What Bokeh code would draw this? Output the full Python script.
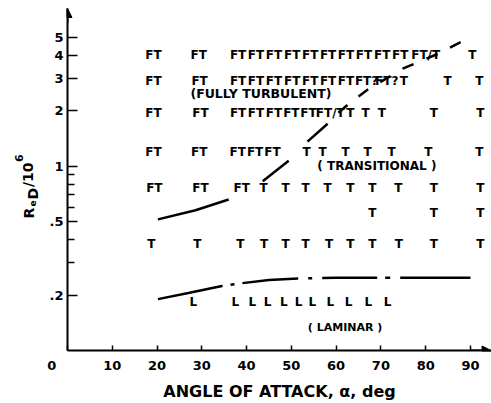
from bokeh.plotting import figure
from bokeh.layouts import row
from bokeh.models import Range1d, FixedTicker, Label, Arrow, NormalHead, ColumnDataSource
from bokeh.core.properties import value
from bokeh.embed import file_html
from bokeh.resources import INLINE

FONT = "DejaVu Sans"

# ---------------- data ----------------
x_ticks = [0, 10, 20, 30, 40, 50, 60, 70, 80, 90]
x_tick_labels = ["0\u00a0\u00a0\u00a0\u00a0\u00a0\u00a0\u00a0", "10", "20", "30", "40", "50", "60", "70", "80", "90"]
y_major = [0.2, 0.5, 1, 2, 3, 4, 5]
y_major_labels = [".2", ".5", "1", "2", "3", "4", "5"]
y_minor = [0.3, 0.4, 0.6, 0.7, 0.8, 0.9]

# rows of typed flow-regime markers (angle of attack, deg)
row1_re = 4.0
row1_x = [19.2, 29.3, 38.1, 42.1, 46.1, 50.2, 54.2, 58.2, 62.2, 66.2, 70.3, 74.3, 80.0, 90.4]
row1_t = ["FT"] * 12 + ["FT/T", "T"]

row2_re = 2.9
row2_x = [19.2, 29.5, 38.1, 42.1, 46.1, 50.2, 54.2, 58.2, 62.2, 66.8, 71.3, 75.1, 84.9, 92.0]
row2_t = ["FT"] * 9 + ["FT?", "FT?", "T", "T", "T"]

row3_re = 1.95
row3_x = [19.2, 29.7, 38.1, 42.1, 46.1, 50.0, 53.8, 58.7, 63.2, 66.6, 70.2, 81.8, 92.2]
row3_t = ["FT"] * 7 + ["FT/T"] + ["T"] * 5

row4_re = 1.2
row4_x = [19.2, 29.4, 38.0, 41.9, 45.8, 53.4, 57.0, 62.1, 67.0, 72.4, 80.6, 92.0]
row4_t = ["FT"] * 5 + ["T"] * 7

row5_re = 0.76
row5_x = [19.4, 29.7, 38.9, 43.8, 48.7, 53.2, 58.1, 63.2, 68.1, 73.9, 81.8, 92.2]
row5_t = ["FT"] * 3 + ["T"] * 9

row6_re = 0.56
row6_x = [68.1, 81.8, 92.2]
row6_t = ["T"] * 3

row7_re = 0.38
row7_x = [18.7, 29.0, 38.6, 43.9, 48.7, 53.2, 58.4, 63.2, 68.1, 74.0, 81.8, 92.2]
row7_t = ["T"] * 12

row8_re = 0.184
row8_x = [28.1, 37.5, 41.3, 44.7, 48.3, 51.6, 54.7, 58.7, 62.8, 67.2, 71.5]
row8_t = ["L"] * 11

# turbulent / transitional boundary (solid pieces, then dashed)
upA_x, upA_y = [20.2, 28.6, 36.0], [0.515, 0.577, 0.66]
upB_x, upB_y = [43.6, 49.4], [0.83, 1.07]
upC_x, upC_y = [53.6, 58.1], [1.36, 1.70]
upD_x, upD_y = [60.5, 63.0, 67.0, 75.0, 83.0, 89.8], [1.95, 2.2, 2.6, 3.4, 4.1, 5.0]

# transitional / laminar boundary
low_x = [20.2, 27.0, 34.5, 39.0, 45.0, 51.5, 60.0, 75.0, 90.0]
low_y = [0.19, 0.205, 0.224, 0.232, 0.241, 0.246, 0.248, 0.248, 0.248]

regions = ["(FULLY TURBULENT)", "( TRANSITIONAL )", "( LAMINAR )"]
region_x = [43.2, 69.1, 62.0]
region_y = [2.48, 1.0, 0.133]
region_size = ["12.5px", "12px", "11px"]

# y-axis title pieces: R_eD / 10^6  (text, baseline x, start y, size), page px
ylab = [("R", 28, 220, "14px"), ("e", 32, 208, "9px"), ("D", 32, 201, "14px"),
        ("/10", 27, 188.5, "14px"), ("6", 18, 163.5, "11px")]

W_LEFT = 45
H = 403
FRAME_BOTTOM = 352   # page y of the (aligned) frame bottom

# ---------------- left strip carrying the rotated y title ----------------
lf = figure(width=W_LEFT, height=H, output_backend="svg", toolbar_location=None,
            x_axis_location=None, y_axis_location=None,
            x_range=Range1d(0, W_LEFT), y_range=Range1d(0, H),
            min_border_left=0, min_border_right=0, min_border_top=0, min_border_bottom=0)
lf.outline_line_color = None
lf.grid.visible = False
for txt, cx, cy, fs in ylab:
    lf.add_layout(Label(x=cx, y=FRAME_BOTTOM - cy, x_units="screen", y_units="screen", text=txt,
                        angle=90, angle_units="deg", text_align="left", text_baseline="alphabetic",
                        text_font=FONT, text_font_style="bold", text_font_size=fs,
                        text_color="black"))

# ---------------- main figure ----------------
p = figure(width=491 - W_LEFT, height=H, output_backend="svg", toolbar_location=None,
           x_range=Range1d(0, 94.7), y_range=Range1d(0.1, 7.18), y_axis_type="log",
           min_border_left=67 - W_LEFT, min_border_right=0, min_border_top=8, min_border_bottom=51)
p.outline_line_color = None
p.grid.visible = False

xa = p.xaxis[0]
xa.ticker = FixedTicker(ticks=x_ticks)
xa.major_label_overrides = {v: s for v, s in zip(x_ticks, x_tick_labels)}
xa.major_tick_in = 5
xa.major_tick_out = 0
xa.minor_tick_line_color = None
xa.axis_line_width = 2
xa.axis_line_color = "black"
xa.major_tick_line_width = 1.5
xa.major_tick_line_color = "black"
xa.major_label_text_font = FONT
xa.major_label_text_font_style = "bold"
xa.major_label_text_font_size = "13px"
xa.major_label_text_color = "black"
xa.major_label_standoff = 7
xa.axis_label = "ANGLE OF ATTACK, \u03b1, deg"
xa.axis_label_text_font = FONT
xa.axis_label_text_font_style = "bold"
xa.axis_label_text_font_size = "16px"
xa.axis_label_text_color = "black"
xa.axis_label_standoff = 6

ya = p.yaxis[0]
ya.ticker = FixedTicker(ticks=y_major, minor_ticks=y_minor)
ya.major_label_overrides = {v: s for v, s in zip(y_major, y_major_labels)}
ya.major_tick_in = 10
ya.major_tick_out = 0
ya.minor_tick_in = 7
ya.minor_tick_out = 0
ya.axis_line_width = 2
ya.axis_line_color = "black"
ya.major_tick_line_width = 1.5
ya.minor_tick_line_width = 1.5
ya.major_tick_line_color = "black"
ya.minor_tick_line_color = "black"
ya.major_label_text_font = FONT
ya.major_label_text_font_style = "bold"
ya.major_label_text_font_size = "13px"
ya.major_label_text_color = "black"
ya.major_label_standoff = 4

# axis arrows
p.add_layout(Arrow(x_start=0, y_start=6.0, x_end=0, y_end=7.18, line_width=2,
                   end=NormalHead(size=9, fill_color="black", line_color="black")))
p.add_layout(Arrow(x_start=90, y_start=0.1, x_end=94.6, y_end=0.1, line_width=2,
                   end=NormalHead(size=9, fill_color="black", line_color="black")))

# boundary curves
for xs, ys in [(upA_x, upA_y), (upB_x, upB_y), (upC_x, upC_y)]:
    p.line(xs, ys, line_color="black", line_width=2.5)
p.line(upD_x, upD_y, line_color="black", line_width=2.5, line_dash="12 14")
p.line(low_x, low_y, line_color="black", line_width=2.5,
       line_dash="66 8 4 8 56 10 4 10 55 8 5 10 80")

# markers
xs, ys, ts = [], [], []
for rx, rt, rre in [(row1_x, row1_t, row1_re), (row2_x, row2_t, row2_re), (row3_x, row3_t, row3_re),
                    (row4_x, row4_t, row4_re), (row5_x, row5_t, row5_re), (row6_x, row6_t, row6_re),
                    (row7_x, row7_t, row7_re), (row8_x, row8_t, row8_re)]:
    xs += rx
    ys += [rre] * len(rx)
    ts += rt
src = ColumnDataSource(dict(x=xs, y=ys, text=ts))
p.text(x="x", y="y", text="text", source=src, text_font=value(FONT), text_font_style="bold",
       text_font_size="12px", text_align="center", text_baseline="middle", text_color="black")

for t, rx, ry, fs in zip(regions, region_x, region_y, region_size):
    p.text(x=[rx], y=[ry], text=[t], text_font=value(FONT), text_font_style="bold",
           text_font_size=fs, text_align="center", text_baseline="middle", text_color="black")

layout = row(lf, p)
open("out.html", "w").write(file_html(layout, INLINE))
